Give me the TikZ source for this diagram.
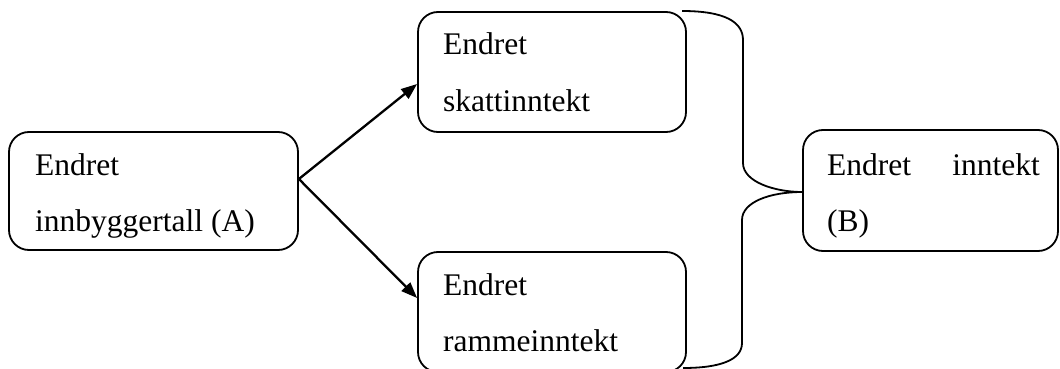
\documentclass[tikz,border=0pt]{standalone}
\usepackage{fontspec}
\setmainfont{Liberation Serif}
\usetikzlibrary{arrows.meta}
\tikzset{
  box/.style={draw, line width=1.8pt, rounded corners=20pt, inner sep=0pt},
  lbl/.style={anchor=base west, inner sep=0pt, font=\fontsize{31.5}{40}\selectfont},
  lblr/.style={anchor=base east, inner sep=0pt, font=\fontsize{31.5}{40}\selectfont},
  arr/.style={line width=2.3pt, -{Triangle[length=16pt,width=12pt]}},
  brace/.style={line width=1.8pt}
}
\begin{document}
\begin{tikzpicture}[x=1pt,y=-1pt]
\useasboundingbox (0,0) rectangle (1060,369);
\node[box, minimum width=289pt, minimum height=118pt] (A) at (153.5,191) {};
\node[box, minimum width=268pt, minimum height=120pt] (S) at (552,72) {};
\node[box, minimum width=268pt, minimum height=120pt] (R) at (552,312) {};
\node[box, minimum width=255pt, minimum height=121pt] (B) at (930.5,190.5) {};
\node[lbl] (a1) at (35,175) {Endret};
\node[lbl] (a2) at (35,231) {innbyggertall (A)};
\node[lbl] (s1) at (443,55) {Endret};
\node[lbl] (s2) at (443,111) {skattinntekt};
\node[lbl] (r1) at (443,295) {Endret};
\node[lbl] (r2) at (443,351) {rammeinntekt};
\node[lbl] (b1) at (827,175) {Endret};
\node[lblr] (b2) at (1040,175) {inntekt};
\node[lbl] (b3) at (827,231) {(B)};
\coordinate (src) at (A.east |- 0,179);
\draw[arr] (src) -- (S.west |- 0,84);
\draw[arr] (src) -- (R.west |- 0,298);
\coordinate (tip) at (B.west |- 0,192);
\draw[brace] (682,11) .. controls (725,11) and (743,22) .. (743,40)
  -- (743,163) .. controls (743,182) and (775,192) .. (tip);
\draw[brace] (tip) .. controls (770,192) and (742,202) .. (742,220)
  -- (742,343) .. controls (742,360) and (720,368) .. (683,368);
\end{tikzpicture}
\end{document}
